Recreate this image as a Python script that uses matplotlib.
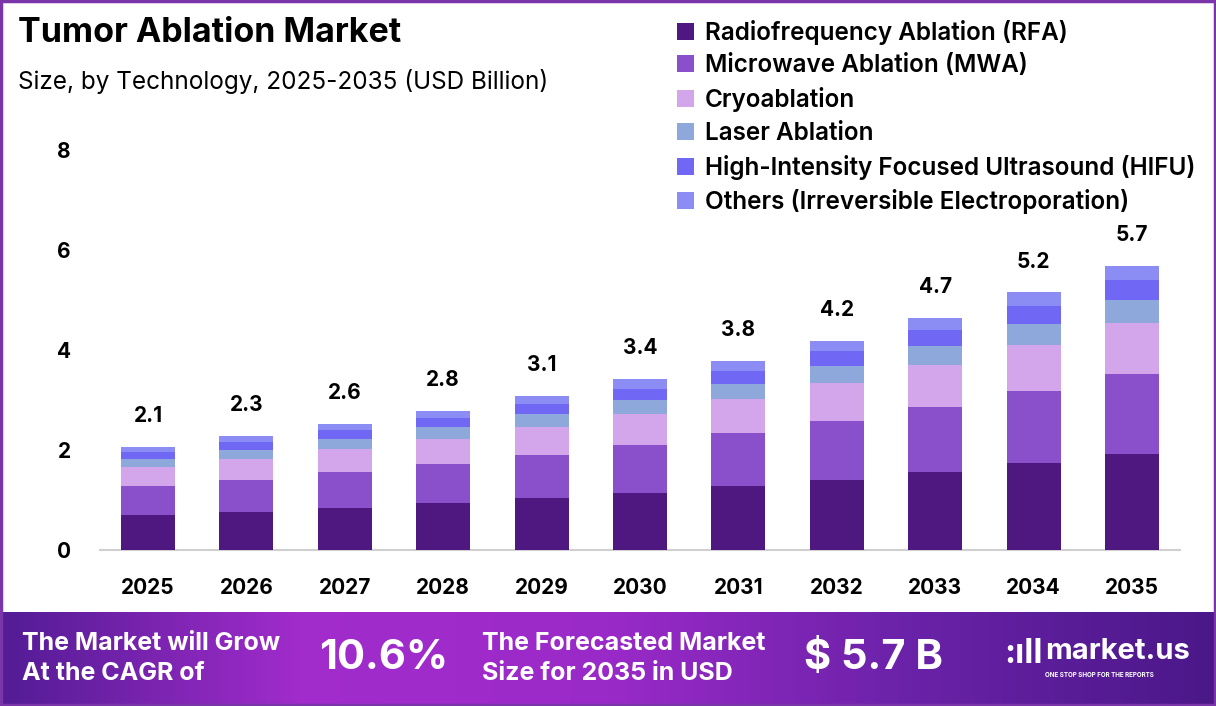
import numpy as np
import matplotlib.pyplot as plt
from matplotlib.patches import Rectangle
from matplotlib.colors import LinearSegmentedColormap

plt.rcParams['font.family'] = ['Inter', 'DejaVu Sans']

years = ['2025', '2026', '2027', '2028', '2029', '2030', '2031', '2032', '2033', '2034', '2035']
rfa = [0.70, 0.76, 0.84, 0.94, 1.04, 1.14, 1.29, 1.40, 1.57, 1.75, 1.92]
mwa = [0.58, 0.64, 0.72, 0.78, 0.86, 0.96, 1.05, 1.18, 1.30, 1.44, 1.60]
cryo = [0.38, 0.43, 0.46, 0.50, 0.56, 0.62, 0.68, 0.77, 0.83, 0.91, 1.03]
laser = [0.16, 0.17, 0.20, 0.24, 0.26, 0.28, 0.30, 0.34, 0.38, 0.42, 0.45]
hifu = [0.14, 0.17, 0.18, 0.18, 0.20, 0.23, 0.27, 0.30, 0.32, 0.37, 0.40]
others = [0.10, 0.11, 0.12, 0.14, 0.16, 0.19, 0.19, 0.19, 0.24, 0.26, 0.29]
totals = [2.1, 2.3, 2.6, 2.8, 3.1, 3.4, 3.8, 4.2, 4.7, 5.2, 5.7]

labels = ['Radiofrequency Ablation (RFA)', 'Microwave Ablation (MWA)', 'Cryoablation',
          'Laser Ablation', 'High-Intensity Focused Ultrasound (HIFU)',
          'Others (Irreversible Electroporation)']
colors = ['#4f1780', '#8a4fcb', '#d3a6ec', '#8fa8dc', '#7068f5', '#8c8cf5']
series = [rfa, mwa, cryo, laser, hifu, others]

fig = plt.figure(figsize=(12.16, 7.06), dpi=100)
ax = fig.add_axes([100 / 1216, 156 / 706, 1080 / 1216, 420 / 706])

x = np.arange(len(years))
bottom = np.zeros(len(years))
handles = []
for vals, col, lab in zip(series, colors, labels):
    h = ax.bar(x, vals, width=0.55, bottom=bottom, color=col, label=lab, zorder=3)
    handles.append(h)
    bottom += np.array(vals)

for xi, top, t in zip(x, bottom, totals):
    ax.annotate(f'{t}', (xi, top), xytext=(0, 15), textcoords='offset points',
                ha='center', va='bottom', fontsize=15, fontweight='bold')

ax.set_xlim(-0.488, 10.488)
ax.set_ylim(0, 8.4)
ax.set_yticks([0, 2, 4, 6, 8])
ax.set_xticks(x)
ax.set_xticklabels(years)
ax.tick_params(axis='both', length=0, labelsize=15)
ax.tick_params(axis='y', pad=21)
ax.tick_params(axis='x', pad=20)
for t in ax.get_xticklabels() + ax.get_yticklabels():
    t.set_fontweight('bold')
for s in ['top', 'right', 'left']:
    ax.spines[s].set_visible(False)
ax.spines['bottom'].set_color('#d0d0d0')
ax.spines['bottom'].set_linewidth(1.5)

fig.text(18 / 1216, 1 - 33 / 706, 'Tumor Ablation Market', fontsize=24.5, fontweight='bold', va='center')
fig.text(18 / 1216, 1 - 81 / 706, 'Size, by Technology, 2025-2035 (USD Billion)', fontsize=17.5, va='center')

fig.legend(handles=handles, labels=labels, loc='upper left', bbox_to_anchor=(667 / 1216, 1 - 10 / 706),
           frameon=False, handlelength=0.7, handleheight=0.7, handletextpad=0.45,
           labelspacing=0.40, borderaxespad=0, prop={'weight': 'semibold', 'size': 17.5})

# footer band with gradient
fax = fig.add_axes([0, 0, 1, 94 / 706])
cmap = LinearSegmentedColormap.from_list('band', ['#531c95', '#a22ccc', '#9a2ac8', '#6a22a8', '#4a1888'])
fax.imshow(np.linspace(0, 1, 256).reshape(1, -1), aspect='auto', cmap=cmap, extent=[0, 1, 0, 1])
fax.set_xlim(0, 1)
fax.set_ylim(0, 1)
fax.axis('off')
fax.text(22 / 1216, 0.66, 'The Market will Grow', color='white', fontsize=18, fontweight='bold', va='center')
fax.text(22 / 1216, 0.35, 'At the CAGR of', color='white', fontsize=18, fontweight='bold', va='center')
fax.text(384 / 1216, 0.51, '10.6%', color='white', fontsize=30, fontweight='bold', va='center', ha='center')
fax.text(482 / 1216, 0.66, 'The Forecasted Market', color='white', fontsize=18, fontweight='bold', va='center')
fax.text(482 / 1216, 0.35, 'Size for 2035 in USD', color='white', fontsize=18, fontweight='bold', va='center')
fax.text(873 / 1216, 0.51, '$ 5.7 B', color='white', fontsize=30, fontweight='bold', va='center', ha='center')
fax.text(1004 / 1216, 0.55, ':ıll', color='white', fontsize=24, fontweight='bold', va='center')
fax.text(1045 / 1216, 0.58, 'market.us', color='white', fontsize=21, fontweight='bold', va='center')
fax.text(1045 / 1216, 0.33, 'ONE STOP SHOP FOR THE REPORTS', color='white', fontsize=4.5, fontweight='bold', va='center')

fig.patches.append(Rectangle((0.001, 0.002), 0.998, 0.996, transform=fig.transFigure, fill=False,
                             edgecolor='#7a35a8', linewidth=2.5, zorder=10))

fig.savefig('out.png', dpi=100)
